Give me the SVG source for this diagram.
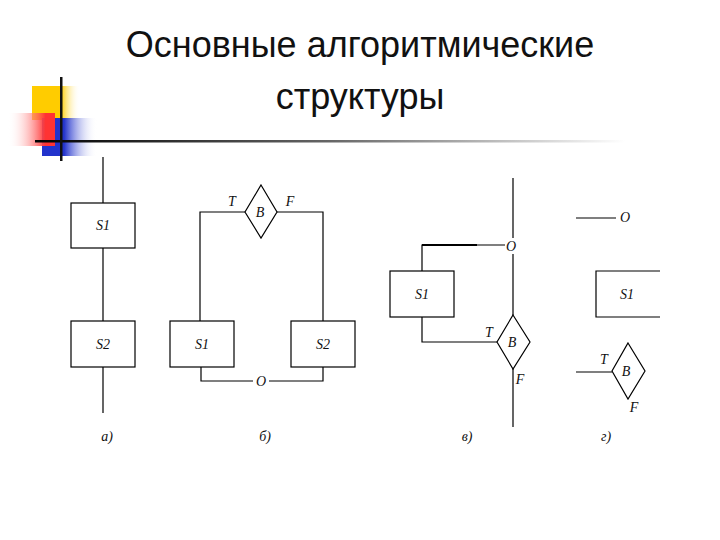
<svg xmlns="http://www.w3.org/2000/svg" width="720" height="540" viewBox="0 0 720 540">
<defs>
<linearGradient id="hl" x1="0" x2="1" y1="0" y2="0"><stop offset="0" stop-color="#000"/><stop offset="0.5" stop-color="#666"/><stop offset="1" stop-color="#fff"/></linearGradient>
<linearGradient id="rd" x1="1" x2="0" y1="0" y2="0"><stop offset="0.2" stop-color="#f33"/><stop offset="1" stop-color="#fff" stop-opacity="0"/></linearGradient>
<linearGradient id="bl" x1="0" x2="1" y1="0" y2="0"><stop offset="0.4" stop-color="#2233cc"/><stop offset="1" stop-color="#fff" stop-opacity="0"/></linearGradient>
<linearGradient id="yl" x1="0" x2="1" y1="0" y2="0"><stop offset="0.6" stop-color="#fc0"/><stop offset="1" stop-color="#fff" stop-opacity="0"/></linearGradient>
</defs>
<style>
.t{font-family:"Liberation Sans",Arial,sans-serif;font-size:36px;fill:#111;text-anchor:middle}
.l{font-family:"Liberation Serif","Times New Roman",serif;font-style:italic;font-size:14px;fill:#111;text-anchor:middle}
.b{fill:#fff;stroke:#000;stroke-width:1.2}
.c{fill:none;stroke:#000;stroke-width:1.2}
</style>
<rect width="720" height="540" fill="#fff"/>
<g id="logo">
<rect x="32" y="86" width="48" height="34" fill="url(#yl)"/>
<rect x="42" y="118" width="55" height="38" fill="url(#bl)"/>
<rect x="8" y="113" width="47" height="33" fill="url(#rd)"/>
<rect x="35" y="140" width="590" height="2.5" fill="url(#hl)"/>
<rect x="60" y="77" width="2.5" height="84" fill="#111"/>
</g>
<g id="title">
<text class="t" x="360" y="57">Основные алгоритмические</text>
<text class="t" x="360" y="109">структуры</text>
</g>
<g id="connectors" class="c">
<path class="c" d="M103 157V203M103 248V321M103 367V413"/>
<path class="c" d="M245 212H200V321M277 212H323V321M201 367V381H253M269 381H323V367"/>
<path class="c" d="M513 178V238M513 254V315M513 369V427M505 245H422V271M422 317V342H497"/>
<path d="M422 245H477" stroke="#000" stroke-width="2.2"/>
<path class="c" d="M576 218H616M576 372H612M660 271H596V317H660"/>
</g>
<g id="a_S1"><rect class="b" x="71" y="203" width="64" height="45"/><text class="l" x="103" y="230">S1</text></g>
<g id="a_S2"><rect class="b" x="71" y="321" width="64" height="46"/><text class="l" x="103" y="349">S2</text></g>
<text class="l" x="107" y="441">а)</text>
<g id="b_B"><polygon class="b" points="261,185 277,212 261,238 245,212"/><text class="l" x="260" y="217">B</text></g>
<text class="l" x="232" y="206">T</text><text class="l" x="290" y="206">F</text>
<g id="b_S1"><rect class="b" x="170" y="321" width="64" height="46"/><text class="l" x="202" y="349">S1</text></g>
<g id="b_S2"><rect class="b" x="291" y="321" width="64" height="46"/><text class="l" x="323" y="349">S2</text></g>
<text class="l" x="261" y="386">O</text>
<text class="l" x="265" y="441">б)</text>
<text class="l" x="511" y="251">O</text>
<g id="v_S1"><rect class="b" x="390" y="271" width="64" height="46"/><text class="l" x="422" y="299">S1</text></g>
<g id="v_B"><polygon class="b" points="513,315 530,342 513,369 497,342"/><text class="l" x="512" y="347">B</text></g>
<text class="l" x="489" y="337">T</text><text class="l" x="520" y="384">F</text>
<text class="l" x="467" y="441">в)</text>
<text class="l" x="625" y="222">O</text>
<g id="g_S1"><text class="l" x="627" y="299">S1</text></g>
<g id="g_B"><polygon class="b" points="628,343 645,371 628,399 612,371"/><text class="l" x="626" y="376">B</text></g>
<text class="l" x="604" y="364">T</text><text class="l" x="634" y="412">F</text>
<text class="l" x="606" y="441">г)</text>
</svg>
